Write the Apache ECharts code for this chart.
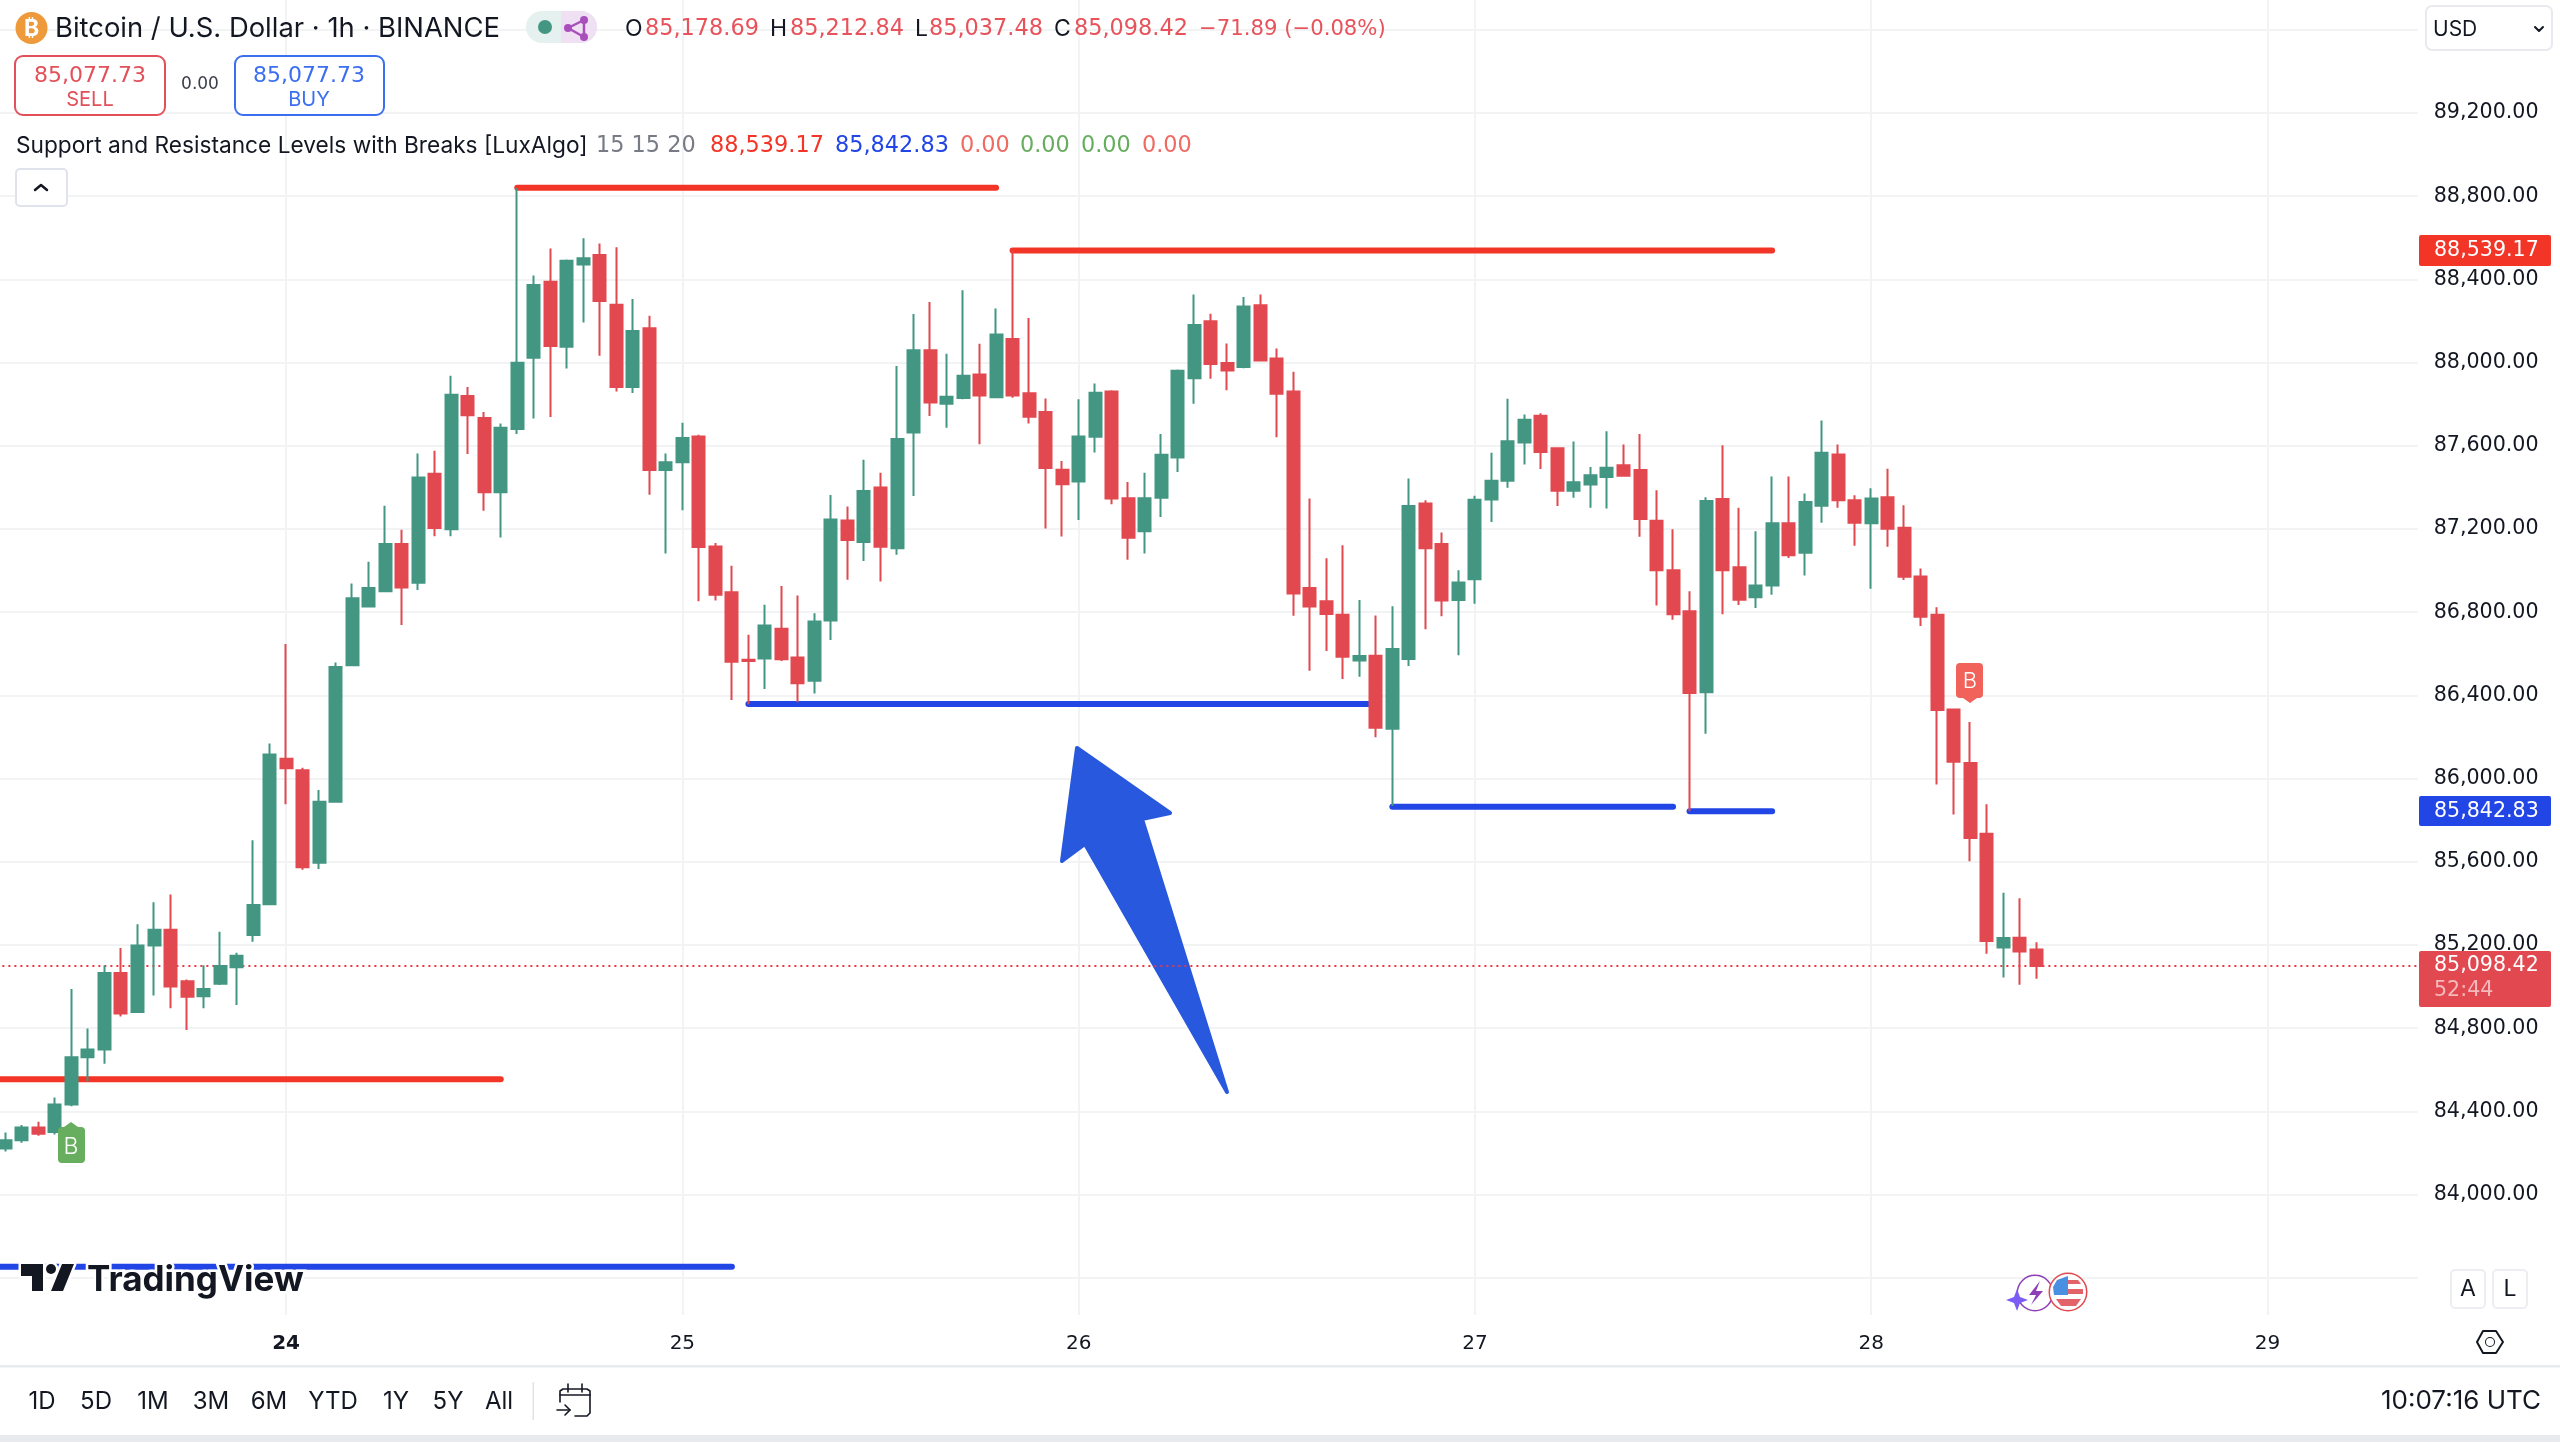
<!DOCTYPE html>
<html>
<head>
<meta charset="utf-8">
<title>BTCUSD 1h</title>
<script src="https://cdn.jsdelivr.net/npm/echarts@6/dist/echarts.min.js"></script>
<style>
  html, body { margin: 0; padding: 0; background: #fff; }
  #main { width: 2560px; height: 1442px; }
</style>
</head>
<body>
<div id="main"></div>
<script>
// hourly candles, index 0 = first bar on the left edge
const opens = [
  84221,84261,84323,84301,84433,84660,84697,85065,84878,85197,
  85273,85025,84954,85013,85093,85248,85396,86095,86040,85595,
  85889,86545,86827,86901,87128,86941,87465,87199,87839,87734,
  87376,87680,88023,88388,88076,88471,88517,88278,87882,88165,
  87484,87521,87645,87116,86896,86571,86577,86720,86582,86470,
  86760,87241,87137,87399,87107,87664,88059,87802,87829,87943,
  87833,88113,87852,87762,87485,87428,87643,87861,87348,87189,
  87350,87544,87924,88198,87998,87979,88275,88019,87861,86916,
  86852,86787,86567,86591,86240,86575,87322,87128,86858,86958,
  87342,87432,87616,87744,87588,87384,87414,87450,87506,87484,
  87240,87002,86804,86415,87344,87016,86872,86928,87228,87085,
  87312,87558,87338,87228,87352,87206,86972,86788,86332,86075,
  85735,85188,85235,85178.69
];
const closes = [
  84261,84323,84292,84433,84660,84697,85065,84871,85197,85273,
  85000,84951,84988,85099,85148,85392,86116,86049,85574,85889,
  86536,86867,86916,87128,86919,87447,87204,87845,87747,87376,
  87686,87999,88373,88079,88489,88502,88296,87882,88152,87484,
  87521,87637,87113,86884,86561,86565,86736,86573,86458,86755,
  87245,87147,87382,87115,87632,88059,87808,87836,87937,87842,
  88135,87842,87739,87493,87415,87645,87855,87346,87158,87348,
  87557,87960,88181,87993,87962,88270,88010,87850,86890,86827,
  86791,86586,86589,86244,86623,87310,87107,86856,86942,87340,
  87432,87622,87725,87570,87384,87424,87458,87494,87456,87248,
  87002,86790,86411,87334,87002,86860,86928,87228,87073,87330,
  87566,87338,87230,87346,87201,86970,86778,86330,86081,85714,
  85219,85233,85168,85098.42
];
const highs = [
  84298,84335,84350,84467,84988,84798,85102,85185,85300,85405,
  85442,85034,85102,85264,85163,85703,86169,86647,86052,85945,
  86558,86938,87042,87312,87196,87563,87576,87937,87882,87762,
  87707,88839,88419,88548,88496,88597,88572,88554,88305,88225,
  87563,87710,87653,87132,87023,86691,86836,86926,86880,86795,
  87363,87308,87533,87470,87983,88233,88291,88042,88348,88090,
  88260,88540,88214,87827,87527,87823,87899,87867,87426,87470,
  87656,87967,88327,88235,88092,88315,88327,88067,87956,87346,
  87059,87122,86858,86784,86828,87442,87338,87183,87002,87360,
  87566,87826,87750,87756,87593,87620,87498,87670,87606,87656,
  87386,87199,86900,87352,87602,87302,87189,87452,87452,87370,
  87721,87606,87362,87396,87490,87314,87010,86824,86332,86272,
  85877,85451,85425,85212.84
];
const lows = [
  84207,84249,84283,84289,84424,84544,84629,84856,84873,84957,
  84896,84791,84896,85008,84911,85215,85392,85877,85562,85565,
  85884,86540,86824,86896,86738,86907,87165,87165,87560,87287,
  87159,87656,87731,87738,87971,88192,88033,87861,87854,87364,
  87082,87290,86852,86856,86378,86357,86430,86565,86367,86409,
  86666,86956,87046,86947,87076,87359,87743,87687,87824,87607,
  87828,87831,87707,87202,87164,87243,87567,87319,87052,87082,
  87258,87474,87802,87922,87867,87972,88005,87641,86783,86518,
  86613,86479,86489,86199,85868,86541,86718,86780,86593,86840,
  87234,87398,87510,87488,87310,87350,87302,87298,87451,87163,
  86832,86764,85843,86216,86790,86834,86820,86884,87060,86976,
  87230,87302,87119,86912,87115,86954,86734,85971,85827,85603,
  85158,85043,85009,85037.48
];

// resistance / support segments from the indicator: [from bar, to bar]
const resistanceFrom = [-2, 31, 61];
const resistanceTo = [30, 60, 107];
const resistanceLevels = [84554, 88840, 88539.17];
const supportFrom = [-2, 45, 84, 102];
const supportTo = [44, 83, 101, 107];
const supportLevels = [83653, 86358, 85865, 85842.83];

const lastPrice = 85098.42;

const dayTicks = [17, 41, 65, 89, 113, 137];
const dayLabels = ['24', '25', '26', '27', '28', '29'];
const priceGrid = [83600, 84000, 84400, 84800, 85200, 85600, 86000, 86400, 86800, 87200, 87600, 88000, 88400, 88800, 89200, 89600];
const priceLabels = [84000, 84400, 84800, 85200, 85600, 86000, 86400, 86800, 87200, 87600, 88000, 88400, 88800, 89200];

const rangeButtons = ['1D', '5D', '1M', '3M', '6M', 'YTD', '1Y', '5Y', 'All'];
const rangeButtonX = [42, 96, 153, 211, 269, 333, 396, 448, 499];

const GREEN = '#439782';
const RED = '#E2484F';
const LINE_RED = '#F23527';
const LINE_BLUE = '#2246E6';
const INK = '#131722';
const FONT = 'Inter, "Liberation Sans", sans-serif';
const NUM_FONT = '"DejaVu Sans", sans-serif';
const GRID = '#F2F3F5';

function levelSeries(from, to, value, color) {
  return {
    type: 'line',
    data: [[from, value], [to, value]],
    symbol: 'none',
    silent: true,
    z: 1,
    lineStyle: { color: color, width: 6, cap: 'round' }
  };
}

function fmtPrice(v) {
  return v.toLocaleString('en-US', { minimumFractionDigits: 2, maximumFractionDigits: 2 });
}

// ---- page furniture around the chart ----
const el = [];
function txt(x, y, text, fill, size, extra) {
  extra = extra || {};
  el.push({
    type: 'text', z: 100, x: x, y: y, silent: true,
    style: Object.assign({
      text: text,
      fill: fill,
      font: (extra.weight || 400) + ' ' + size + 'px ' + (extra.family || FONT),
      verticalAlign: 'middle',
      align: extra.align || 'left'
    })
  });
}
function num(x, y, text, fill, size, extra) {
  txt(x, y, text, fill, size, Object.assign({ family: NUM_FONT }, extra));
}
function box(x, y, w, h, r, fill, stroke, lw, z) {
  el.push({
    type: 'rect', z: z || 99, silent: true,
    shape: { x: x, y: y, width: w, height: h, r: r },
    style: { fill: fill, stroke: stroke, lineWidth: lw || 0 }
  });
}
function poly(points, fill, z, stroke, lw) {
  el.push({
    type: 'polygon', z: z || 100, silent: true,
    shape: { points: points },
    style: { fill: fill, stroke: stroke || fill, lineWidth: lw === undefined ? 0 : lw, lineJoin: 'round', strokeFirst: true }
  });
}
function path(points, stroke, lw) {
  el.push({
    type: 'polyline', z: 100, silent: true,
    shape: { points: points },
    style: { fill: 'none', stroke: stroke, lineWidth: lw, lineCap: 'round', lineJoin: 'round' }
  });
}
function circle(cx, cy, r, fill, stroke, lw) {
  el.push({
    type: 'circle', z: 100, silent: true,
    shape: { cx: cx, cy: cy, r: r },
    style: { fill: fill, stroke: stroke, lineWidth: lw || 0, strokeFirst: true }
  });
}

// symbol row
circle(31.5, 28, 16, '#EE9A3A');
txt(31.5, 29, '₿', '#fff', 23, { weight: 700, align: 'center' });
txt(55, 29, 'Bitcoin / U.S. Dollar · 1h · BINANCE', INK, 27.4);
box(526, 11, 71, 32, 16, '#E4F1EE');
box(561, 11, 36, 32, [0, 16, 16, 0], '#EFE0F3');
circle(545, 27, 7, '#439782');
path([[584, 20], [568, 28], [584, 37], [584, 20]], '#A84FBC', 2.5);
circle(568, 28, 4, '#A84FBC');
circle(584, 20, 4, '#A84FBC');
circle(584, 37, 4, '#A84FBC');

const ohlcNames = ['O', 'H', 'L', 'C'];
const ohlcNameX = [625, 770, 915, 1054];
const ohlcValX = [645, 790, 929, 1074];
const ohlcVals = ['85,178.69', '85,212.84', '85,037.48', '85,098.42'];
ohlcNames.forEach((n, i) => {
  txt(ohlcNameX[i], 29, n, INK, 23);
  num(ohlcValX[i], 29, ohlcVals[i], '#E8535B', 22.4);
});
num(1199, 29, '−71.89 (−0.08%)', '#E8535B', 21.2);

// sell / buy boxes
box(15, 56, 150, 59, 8, '#fff', '#E2505A', 2);
num(90, 76, '85,077.73', '#E2505A', 22, { align: 'center' });
txt(90, 99.5, 'SELL', '#E2505A', 20, { align: 'center' });
num(200, 85, '0.00', '#3A3E4A', 17, { align: 'center' });
box(235, 56, 149, 59, 8, '#fff', '#3B6FF0', 2);
num(309, 76, '85,077.73', '#3B6FF0', 22, { align: 'center' });
txt(309, 99.5, 'BUY', '#3B6FF0', 20, { align: 'center' });

// indicator row
txt(16, 146, 'Support and Resistance Levels with Breaks [LuxAlgo]', INK, 22.7);
num(596, 146, '15 15 20', '#787B86', 22.4);
num(710, 146, '88,539.17', '#F23527', 22.4);
num(835, 146, '85,842.83', '#2246E6', 22.4);
num(960, 146, '0.00', '#EF6A62', 22.4);
num(1020, 146, '0.00', '#66AE5E', 22.4);
num(1081, 146, '0.00', '#66AE5E', 22.4);
num(1142, 146, '0.00', '#EF6A62', 22.4);
box(16, 169, 51, 37, 4, '#fff', '#E0E3EB', 2);
path([[35, 190], [41, 185], [47, 190]], INK, 2.5);

// currency selector
box(2426, 6, 126, 44, 6, '#fff', '#E8EAEF', 2);
txt(2433, 29.5, 'USD', INK, 21);
path([[2535, 27], [2539, 31], [2543, 27]], INK, 2);

// price tags on the scale
box(2419, 235, 132, 31, 2, LINE_RED);
num(2434, 251, '88,539.17', '#fff', 20.6);
box(2419, 796, 132, 30, 2, LINE_BLUE);
num(2434, 812, '85,842.83', '#fff', 20.6);
box(2419, 951, 132, 56, 2, RED);
num(2434, 966, '85,098.42', '#fff', 20.6);
num(2434, 991, '52:44', 'rgba(255,255,255,0.62)', 20.6);

// hand drawn arrow
poly([[1077, 748], [1170, 813], [1142, 819], [1227, 1092], [1085, 844], [1062, 861]], '#2758DD', 1, '#2758DD', 4);

// buy labels
poly([[64, 1127], [71, 1122], [78, 1127]], '#67AE5E');
box(58, 1127, 27, 36, 4, '#67AE5E');
txt(71, 1147, 'B', '#fff', 23, { weight: 300, align: 'center' });
box(1956, 663, 27, 35, 4, '#F0625A');
poly([[1963, 698], [1970, 703], [1977, 698]], '#F0625A');
txt(1970, 681, 'B', '#fff', 22, { weight: 300, align: 'center' });

// logo
poly([[21, 1264], [43, 1264], [43, 1291], [32, 1291], [32, 1276], [21, 1276]], INK, 100, '#fff', 5);
circle(51, 1269, 5, INK, '#fff', 5);
poly([[62, 1264], [74, 1264], [63, 1291], [51, 1291]], INK, 100, '#fff', 5);
el.push({
  type: 'text', z: 100, x: 87, y: 1280, silent: true,
  style: { text: 'TradingView', fill: INK, stroke: '#fff', lineWidth: 5, strokeFirst: true, font: '700 35px ' + FONT, verticalAlign: 'middle', align: 'left' }
});

// event icons
circle(2035, 1293, 17, '#fff', '#8E3FB8', 3);
poly([[2040, 1281], [2029, 1295], [2036, 1295], [2031, 1305], [2043, 1291], [2036, 1291]], '#8E3FB8');
poly([[2017, 1289], [2020, 1297], [2028, 1300], [2020, 1303], [2017, 1311], [2014, 1303], [2006, 1300], [2014, 1297]], '#7B5CF5');
circle(2068, 1292, 18, '#fff', '#E2484F', 3);
poly([[2057, 1280], [2068, 1276], [2068, 1295], [2054, 1295], [2053, 1287]], '#4A90E2');
poly([[2068, 1289], [2083, 1289], [2083, 1294], [2068, 1294]], '#E2636A');
poly([[2056, 1299], [2081, 1299], [2076, 1306], [2061, 1306]], '#E2636A');
poly([[2068, 1280], [2078, 1280], [2081, 1284], [2068, 1284]], '#E2636A');

// A / L buttons and scale settings
box(2451, 1270, 34, 38, 4, '#fff', '#ECEEF2', 2);
txt(2468, 1289, 'A', INK, 23, { align: 'center' });
box(2493, 1270, 34, 38, 4, '#fff', '#ECEEF2', 2);
txt(2510, 1289, 'L', INK, 23, { align: 'center' });
path([[2477, 1342], [2483, 1331], [2496, 1331], [2503, 1342], [2496, 1353], [2483, 1353], [2477, 1342]], INK, 2);
circle(2490, 1342, 4, '#fff', INK, 2);

// bottom toolbar
box(0, 1365, 2560, 2.5, 0, '#E8EAEE');
box(0, 1435, 2560, 7, 0, '#E9EAED');
rangeButtons.forEach((b, i) => {
  txt(rangeButtonX[i], 1402, b, INK, 24, { align: 'center' });
});
box(532.5, 1382, 1.5, 38, 0, '#E0E3EB');
path([[560, 1402], [560, 1391], [563, 1389], [587, 1389], [590, 1391], [590, 1413], [587, 1416], [575, 1416]], INK, 1.6);
path([[560, 1395], [590, 1395]], INK, 1.6);
path([[568, 1384], [568, 1392]], INK, 1.6);
path([[582, 1384], [582, 1392]], INK, 1.6);
path([[557, 1410], [570, 1410]], INK, 1.6);
path([[565, 1405], [570, 1410], [565, 1415]], INK, 1.6);
txt(2541, 1401, '10:07:16 UTC', INK, 26, { align: 'right' });

// ---- chart ----
const myChart = echarts.init(document.getElementById('main'), null, { renderer: 'canvas' });
const series = [];
resistanceLevels.forEach((v, i) => {
  series.push(levelSeries(resistanceFrom[i], resistanceTo[i], v, LINE_RED));
});
supportLevels.forEach((v, i) => {
  series.push(levelSeries(supportFrom[i], supportTo[i], v, LINE_BLUE));
});
series.push({
  type: 'line',
  data: [[-2, lastPrice], [160, lastPrice]],
  symbol: 'none',
  silent: true,
  z: 3,
  lineStyle: { color: '#F0353F', width: 2, type: [2, 4] }
});
series.push({
  type: 'candlestick',
  z: 5,
  barWidth: 12.5,
  data: opens.map((o, i) => [i, o, closes[i], lows[i], highs[i]]),
  itemStyle: { color: GREEN, color0: RED, borderColor: GREEN, borderColor0: RED, borderWidth: 2 }
});

myChart.setOption({
  animation: false,
  backgroundColor: '#fff',
  grid: { left: 0, top: 0, width: 2417.7, height: 1315, containLabel: false },
  xAxis: {
    type: 'value',
    min: -0.327,
    max: 146.1,
    axisLine: { show: false },
    axisTick: { show: false, customValues: dayTicks },
    splitLine: { show: true, lineStyle: { color: GRID, width: 2 } },
    axisLabel: {
      customValues: dayTicks,
      margin: 19,
      color: INK,
      fontFamily: NUM_FONT,
      fontSize: 20,
      formatter: (v) => {
        const label = dayLabels[dayTicks.indexOf(v)];
        return label === '24' ? '{b|' + label + '}' : label;
      },
      rich: { b: { fontWeight: 700, fontSize: 20, fontFamily: NUM_FONT, color: INK } }
    }
  },
  yAxis: {
    type: 'value',
    position: 'right',
    min: 83421,
    max: 89743,
    axisLine: { show: false },
    axisTick: { show: false, customValues: priceGrid },
    splitLine: { show: true, lineStyle: { color: GRID, width: 2 } },
    axisLabel: {
      customValues: priceLabels,
      margin: 16,
      padding: [2, 0, 0, 0],
      color: INK,
      fontFamily: NUM_FONT,
      fontSize: 20.6,
      formatter: (v) => fmtPrice(v)
    }
  },
  series: series,
  graphic: { elements: el }
});
</script>
</body>
</html>
